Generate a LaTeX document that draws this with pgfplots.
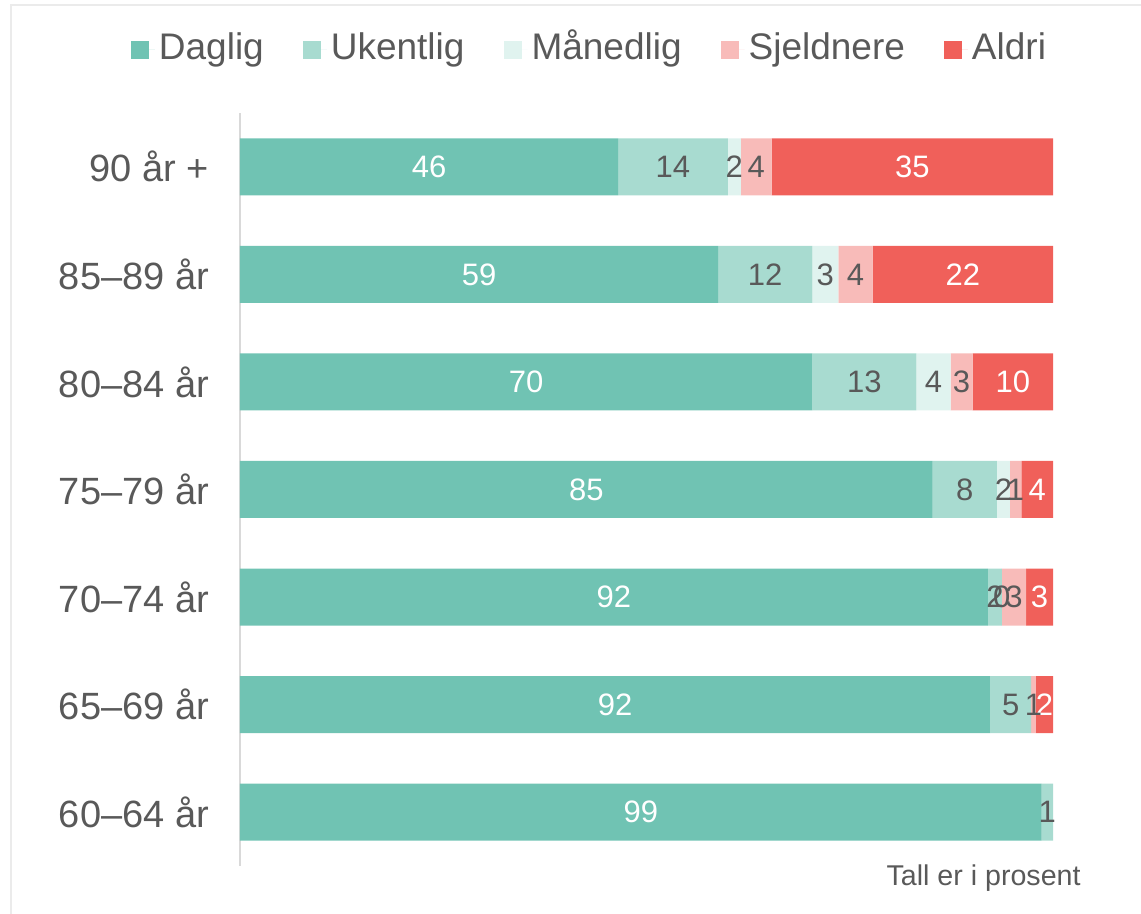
\documentclass[border=0pt]{standalone}
\usepackage{pgfplots}
\pgfplotsset{compat=1.18}
\usepackage{pgfplotstable}
\usepackage{fontspec}
\setmainfont{Liberation Sans}
\definecolor{cD}{HTML}{70C3B3}
\definecolor{cU}{HTML}{A8DBD0}
\definecolor{cM}{HTML}{E0F3EF}
\definecolor{cS}{HTML}{F8BBB9}
\definecolor{cA}{HTML}{F0605A}
\definecolor{tgray}{HTML}{595959}
\definecolor{agray}{HTML}{D9D9D9}
\definecolor{fgray}{HTML}{EBEBEB}

% y: 0 = 60-64, ..., 6 = 90+
\pgfplotstableread{
y  d    dl  u    ul  m     ml  s    sl  a    al
0  98.6 99  1.4  1   0     {}  0    {}  0    {}
1  92.3 92  5.0  5   0     {}  0.6  1   2.1  2
2  92.0 92  1.7  2   0.01  0   2.99 3   3.3  3
3  85.2 85  7.9  8   1.6   2   1.4  1   3.9  4
4  70.4 70  12.8 13  4.2   4   2.7  3   9.9  10
5  58.8 59  11.6 12  3.2   3   4.2  4   22.2 22
6  46.5 46  13.5 14  1.6   2   3.8  4   34.6 35
}\data

\begin{document}
\begin{tikzpicture}
\path[use as bounding box] (-120pt,-24pt) rectangle (450.5pt,433pt);
\draw[fgray, line width=1pt] (-114.5pt,-40pt) -- (-114.5pt,430.5pt) -- (470pt,430.5pt);
\begin{axis}[
  at={(0,0)}, anchor=south west,
  scale only axis, width=406.5pt, height=376.5pt,
  xbar stacked, bar width=28.5pt,
  xmin=0, xmax=100, ymin=-0.5, ymax=6.5,
  axis x line=none, axis y line*=left,
  y axis line style={agray, line width=0.75pt},
  ytick={0,...,6},
  yticklabels={60–64 år,65–69 år,70–74 år,75–79 år,80–84 år,85–89 år,90 år +},
  major tick length=0pt,
  yticklabel style={font=\fontsize{19}{20}\selectfont, text=tgray, xshift=-12pt},
  nodes near coords, point meta=explicit symbolic,
  nodes near coords style={font=\fontsize{15.5}{16}\selectfont, text=tgray},
  clip=false,
  legend columns=5,
  legend style={at={(0.4311,1.0837)}, anchor=center, draw=none, fill=none,
    font=\fontsize{18.5}{20}\selectfont, text=tgray,
    nodes={text height=13.5pt, text depth=4pt},
    /tikz/every even column/.append style={column sep=17.5pt}},
  legend image code/.code={\fill[#1] (0pt,-4.5pt) rectangle (9pt,4.5pt); \path (9pt,0pt) -- (12pt,0pt);},
]
\addplot[fill=cD, draw=none, every node near coord/.append style={text=white}] table[x=d, y=y, meta=dl] {\data};
\addplot[fill=cU, draw=none] table[x=u, y=y, meta=ul] {\data};
\addplot[fill=cM, draw=none] table[x=m, y=y, meta=ml] {\data};
\addplot[fill=cS, draw=none] table[x=s, y=y, meta=sl] {\data};
\addplot[fill=cA, draw=none, every node near coord/.append style={text=white}] table[x=a, y=y, meta=al] {\data};
\legend{Daglig,Ukentlig,Månedlig,Sjeldnere,Aldri}
\node[anchor=east, inner sep=0pt, font=\fontsize{14.3}{15}\selectfont, text=tgray] at (rel axis cs:1.0344,-0.016) {Tall er i prosent};
\end{axis}
\end{tikzpicture}
\end{document}
